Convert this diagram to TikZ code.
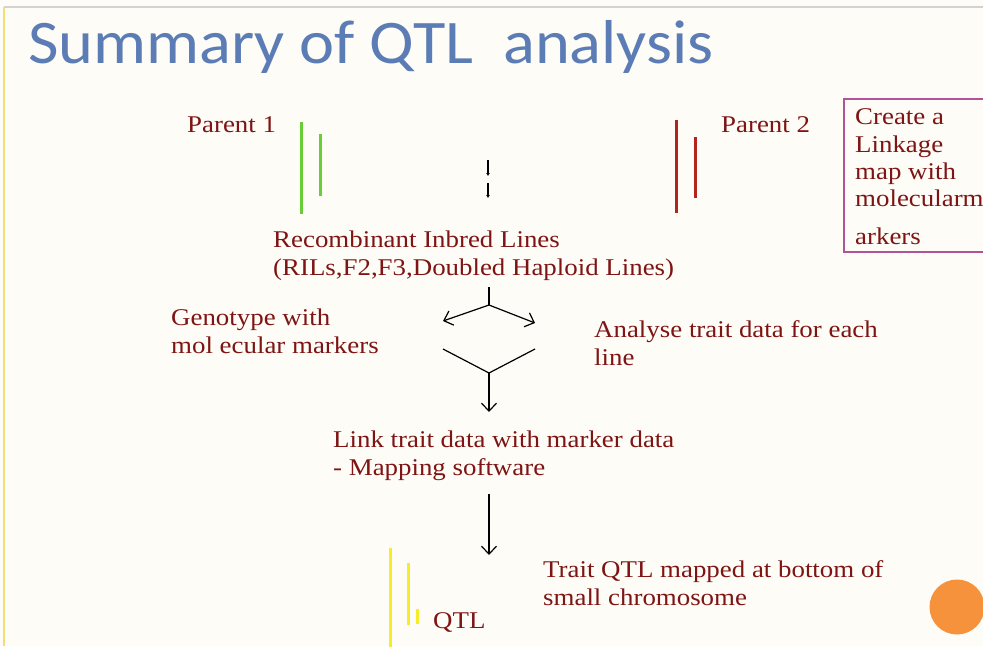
\documentclass[tikz,border=0pt]{standalone}
\usepackage{fontspec}
\setmainfont{Liberation Serif}[FakeStretch=1.12]
\newfontfamily\titlefont{Carlito}[FakeStretch=1.07]
\usetikzlibrary{
  arrows.meta % For arrow tips
}

\definecolor{slidebg}{RGB}{253,252,246}
\definecolor{titleblue}{RGB}{92,124,182}
\definecolor{txtred}{RGB}{126,20,20}
\definecolor{chromgreen}{RGB}{104,206,56}
\definecolor{chromred}{RGB}{178,36,30}
\definecolor{chromyellow}{RGB}{246,236,40}
\definecolor{boxmagenta}{RGB}{178,82,152}
\definecolor{dotorange}{RGB}{247,146,60}

\begin{document}
\begin{tikzpicture}[
      x=1pt, y=-1pt, % Pixel-like units, y downwards
      label/.style={text=txtred, font=\fontsize{24}{28}\selectfont,
        inner sep=0pt, anchor=base west, align=left}, % Red slide text (base = last line)
      chrom/.style={line width=3pt}, % Chromosome bars
      flow/.style={black, line width=1.2pt,
        -{Straight Barb[length=8pt,width=15pt]}}, % Flow arrows
      stem/.style={black, line width=1.2pt}, % Plain flow lines
      tick/.style={black, line width=1.4pt,
        -{Latex[length=3pt,width=4pt]}}, % Tiny cross arrows
    ]

    % Slide background and frame
    \fill[slidebg] (0,0) rectangle (983,646);
    \useasboundingbox (0,0) rectangle (983,646);
    \draw[line width=1.2pt, gray!35] (4,7) -- (983,7);
    \draw[line width=1.2pt, yellow!60!brown!60] (4,7) -- (4,646);

    % Title
    \node[text=titleblue, font=\titlefont\fontsize{62}{70}\selectfont,
      inner sep=0pt, anchor=base west] (title) at (28,63) {Summary of QTL\ \ analysis};

    % Parents
    \node[label] (parentA) at (187,132) {Parent 1};
    \draw[chrom, chromgreen] (301,122) -- (301,214);
    \draw[chrom, chromgreen] (320,134) -- (320,196);

    \node[label] (parentB) at (721,132) {Parent 2};
    \draw[chrom, chromred] (676,120) -- (676,213);
    \draw[chrom, chromred] (695,137) -- (695,198);

    % Crossing arrows
    \coordinate (crossA) at (488,160);
    \coordinate (crossB) at (488,176);
    \coordinate (crossC) at (488,183);
    \coordinate (crossD) at (488,198);
    \draw[tick] (crossA) -- (crossB);
    \draw[tick] (crossC) -- (crossD);

    % Linkage map box
    \draw[boxmagenta, line width=1.5pt] (844,99) rectangle (995,252);
    \node[label, font=\fontsize{24}{27.3}\selectfont] (linkmap) at (855,244)
      {Create a\\Linkage\\map with\\molecularm\\[10pt]arkers};

    % Populations
    \node[label] (ril) at (273,275)
      {Recombinant Inbred Lines\\(RILs,F2,F3,Doubled Haploid Lines)};

    % Split into genotype and trait data
    \coordinate (forktop) at (489,287);
    \coordinate (fork) at (489,305);
    \coordinate (genotip) at (443,321);
    \coordinate (traittip) at (535,323);
    \draw[stem] (forktop) -- (fork);
    \draw[flow] (fork) -- (genotip);
    \draw[flow] (fork) -- (traittip);

    \node[label] (geno) at (171,353) {Genotype with\\mol ecular markers};
    \node[label] (trait) at (594,365) {Analyse trait data for each\\line};

    % Merge
    \coordinate (genoend) at (443,349);
    \coordinate (traitend) at (535,349);
    \coordinate (merge) at (489,373);
    \coordinate (linktip) at (489,412);
    \draw[stem] (genoend) -- (merge) -- (traitend);
    \draw[flow] (merge) -- (linktip);

    \node[label] (link) at (333,475) {Link trait data with marker data\\- Mapping software};

    \coordinate (maptop) at (489,494);
    \coordinate (maptip) at (489,555);
    \draw[flow] (maptop) -- (maptip);

    % Result chromosome
    \draw[chrom, chromyellow] (390,548) -- (390,650);
    \draw[chrom, chromyellow] (408,563) -- (408,625);
    \draw[chrom, chromyellow] (417,609) -- (417,624);
    \node[label] (qtl) at (433,628) {QTL};
    \node[label] (result) at (543,605) {Trait QTL mapped at bottom of\\small chromosome};

    % Slide decoration
    \fill[dotorange] (957,607) circle (27.5);

  \end{tikzpicture}
\end{document}
